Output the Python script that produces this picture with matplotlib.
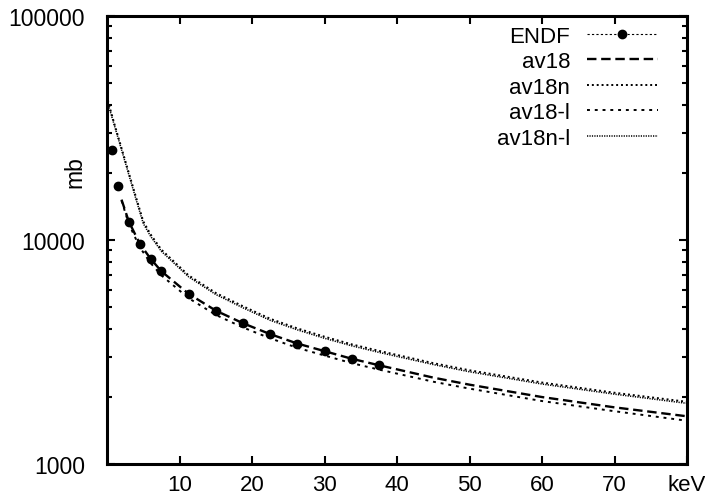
import matplotlib
matplotlib.use("Agg")
import matplotlib.pyplot as plt
from matplotlib.lines import Line2D

plt.rcParams["font.family"] = ["Liberation Sans", "DejaVu Sans"]

# ENDF evaluated points (keV, mb) with small error bars
endf_e = [0.75, 1.5, 3.0, 4.5, 6.0, 7.5, 11.25, 15.0, 18.75, 22.5, 26.25, 30.0, 33.75, 37.5]
endf_mb = [25200, 17500, 12070, 9630, 8230, 7250, 5740, 4835, 4250, 3795, 3445, 3185, 2945, 2760]
endf_err = [700, 500, 350, 280, 240, 210, 170, 140, 125, 110, 100, 95, 90, 85]

# calculated cross sections
e_low = [2, 3, 4.5, 6, 7.5, 11.25, 15, 18.75, 22.5, 26.25, 30, 33.75, 37.5, 45, 50, 60, 70, 80]
av18 = [15140, 12100, 9650, 8250, 7250, 5750, 4840, 4250, 3800, 3450, 3190, 2950, 2760,
        2430, 2260, 1990, 1790, 1633]
av18_l = [15000, 11800, 9300, 7900, 6950, 5500, 4630, 4070, 3640, 3300, 3050, 2820, 2640,
          2330, 2170, 1910, 1720, 1560]

e_high = [0.1, 1, 2, 3, 4, 5, 6, 7.5, 11.25, 15, 18.75, 22.5, 26.25, 30, 33.75, 37.5,
          45, 50, 60, 70, 80]
av18n = [42000, 33100, 25700, 19950, 15500, 12100, 10600, 9050, 6950, 5800, 5060, 4450,
         4030, 3700, 3420, 3200, 2820, 2620, 2310, 2080, 1895]
av18n_l = [41000, 32600, 25300, 19600, 15200, 11850, 10400, 8900, 6850, 5710, 4980, 4380,
           3970, 3640, 3370, 3150, 2780, 2580, 2275, 2050, 1865]

xticks = [10, 20, 30, 40, 50, 60, 70, 80]
xticklabels = ["10", "20", "30", "40", "50", "60", "70", "keV"]

fig = plt.figure(figsize=(7.05, 5.02), dpi=100)
ax = fig.add_axes([0.1518, 0.0737, 0.8227, 0.8925])

ax.errorbar(endf_e, endf_mb, yerr=endf_err, fmt="o", color="black", ms=6,
            elinewidth=0.8, capsize=2.5, capthick=0.8)
l1, = ax.plot(e_low, av18, color="black", lw=1.7, ls=(0, (4, 2)), label="av18")
l2, = ax.plot(e_high, av18n, color="black", lw=1.4, ls=(0, (1, 1.5)), label="av18n")
l3, = ax.plot(e_low, av18_l, color="black", lw=1.4, ls=(0, (1.5, 2.5)), label="av18-l")
l4, = ax.plot(e_high, av18n_l, color="black", lw=1.1, ls=(0, (0.8, 0.8)), label="av18n-l")

ax.set_yscale("log")
ax.set_xlim(0, 80)
ax.set_ylim(1000, 100000)
ax.set_xticks(xticks)
ax.set_xticklabels(xticklabels)
ax.set_yticks([1000, 10000, 100000])
ax.set_yticklabels(["1000", "10000", "100000"])
ax.tick_params(which="both", direction="in", top=True, right=True, labelsize=16.5)
ax.tick_params(axis="x", labelsize=16)
ax.tick_params(which="major", length=6, width=1.5)
ax.tick_params(which="minor", length=3.5, width=1.5)
ax.tick_params(axis="x", which="major", pad=7)
ax.tick_params(axis="y", which="major", pad=16)
for s in ax.spines.values():
    s.set_linewidth(2.2)

ax.set_ylabel("mb", fontsize=16.5)
ax.yaxis.set_label_coords(-0.035, 0.654)

# legend proxy for the ENDF error-bar sample
endf_line = Line2D([], [], color="black", lw=0.8, ls=(0, (2, 2)), marker="o", ms=6)
leg = ax.legend([endf_line, l1, l2, l3, l4],
                ["ENDF", "av18", "av18n", "av18-l", "av18n-l"],
                loc="upper right", bbox_to_anchor=(0.95, 0.978), frameon=False,
                markerfirst=False, fontsize=16, handlelength=3.2, handletextpad=0.75,
                labelspacing=0.2, borderpad=0, borderaxespad=0, numpoints=1)

fig.savefig("out.png", dpi=100)
